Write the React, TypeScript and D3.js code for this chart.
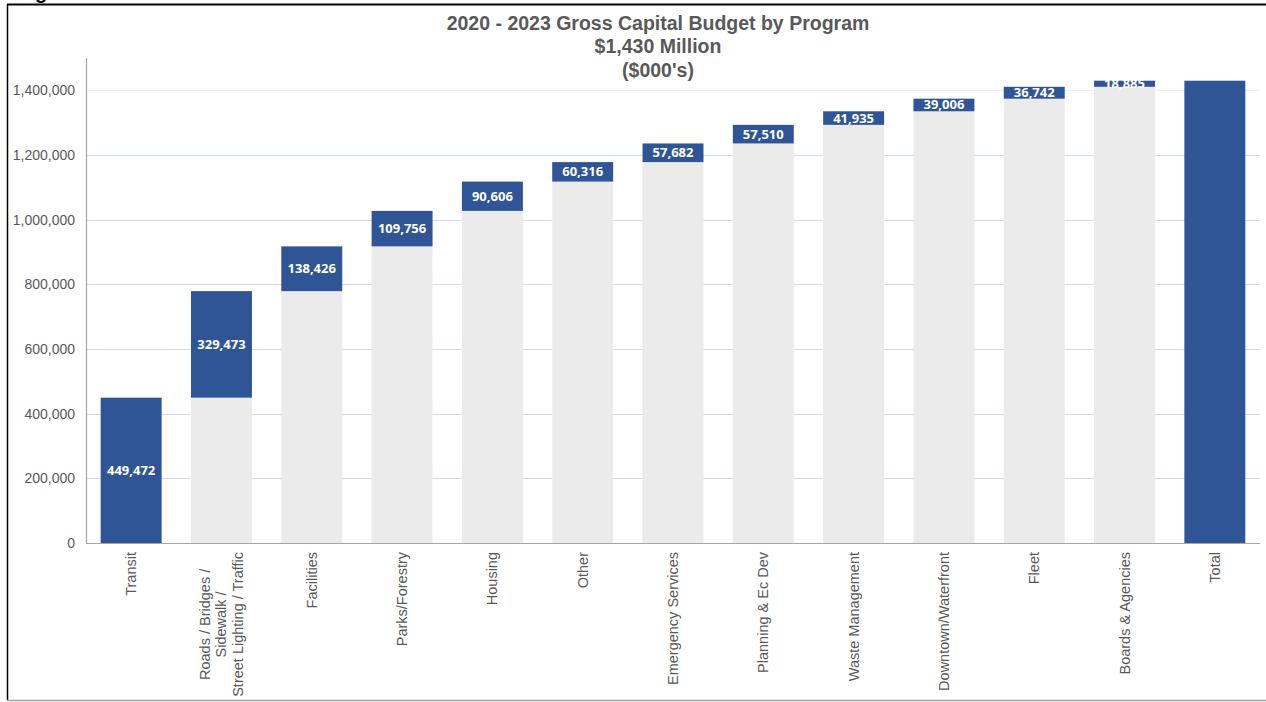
import React, { useEffect, useRef } from "react";
import * as d3 from "d3";

const categories: string[][] = [
  ["Transit"],
  ["Roads / Bridges /", "Sidewalk /", "Street Lighting / Traffic"],
  ["Facilities"],
  ["Parks/Forestry"],
  ["Housing"],
  ["Other"],
  ["Emergency Services"],
  ["Planning & Ec Dev"],
  ["Waste Management"],
  ["Downtown/Waterfront"],
  ["Fleet"],
  ["Boards & Agencies"],
  ["Total"],
];
const programValues: number[] = [
  449472, 329473, 138426, 109756, 90606, 60316, 57682, 57510, 41935, 39006, 36742, 18885,
];
const yTicks: number[] = [0, 200000, 400000, 600000, 800000, 1000000, 1200000, 1400000];
const titleLines: string[] = [
  "2020 - 2023 Gross Capital Budget by Program",
  "$1,430 Million",
  "($000's)",
];

const W = 1266;
const H = 702;
const BLUE = "#2f5597";
const GREY_BAR = "#ebebeb";
const TEXT = "#595959";

export default function App() {
  const ref = useRef<SVGSVGElement>(null);

  useEffect(() => {
    const svg = d3.select(ref.current);
    svg.selectAll("*").remove();

    // frame
    svg.append("text").attr("x", 35).attr("y", -1).attr("font-family", "Liberation Sans, Arial")
      .attr("font-weight", "bold").attr("font-size", 20).attr("fill", "#000").text("g");
    svg.append("line").attr("x1", 7).attr("x2", W).attr("y1", 4.5).attr("y2", 4.5)
      .attr("stroke", "#000").attr("stroke-width", 2);
    svg.append("line").attr("x1", 7.5).attr("x2", 7.5).attr("y1", 4).attr("y2", 700)
      .attr("stroke", "#000").attr("stroke-width", 1.5);
    svg.append("line").attr("x1", 7).attr("x2", W).attr("y1", 700.5).attr("y2", 700.5)
      .attr("stroke", "#a0a0a0").attr("stroke-width", 1.5);

    const left = 86, right = 1260, top = 58, bottom = 543;
    const y = d3.scaleLinear().domain([0, 1500000]).range([bottom, top]);
    const x = d3.scaleBand<number>().domain(d3.range(categories.length)).range([left, right])
      .paddingInner(0.325).paddingOuter(0.1625);

    // title
    const tg = svg.append("g");
    titleLines.forEach((t, i) => {
      tg.append("text").attr("x", 658).attr("y", 29.5 + i * 23.5).attr("text-anchor", "middle")
        .attr("font-family", "Liberation Sans, Arial").attr("font-weight", "bold")
        .attr("font-size", 19.5).attr("fill", TEXT).text(t);
    });

    // gridlines
    svg.append("g").selectAll("line").data(yTicks.filter((d) => d > 0)).join("line")
      .attr("x1", left).attr("x2", right)
      .attr("y1", (d) => Math.round(y(d)) + 0.5).attr("y2", (d) => Math.round(y(d)) + 0.5)
      .attr("stroke", (d) => (d === 1400000 ? "#eef1f7" : "#d0dcf1")).attr("stroke-width", 1);

    // y tick labels
    svg.append("g").selectAll("text").data(yTicks).join("text")
      .attr("x", 75).attr("y", (d) => y(d) + 5).attr("text-anchor", "end")
      .attr("font-family", "Liberation Sans, Arial").attr("font-size", 14).attr("fill", TEXT)
      .text((d) => d3.format(",")(d));

    // waterfall data
    const cum: number[] = [];
    let acc = 0;
    programValues.forEach((v) => { cum.push(acc); acc += v; });
    const total = acc;

    const bars = svg.append("g");
    bars.selectAll("rect.base").data(programValues.map((v, i) => ({ i, base: cum[i] })).filter((d) => d.base > 0))
      .join("rect").attr("class", "base")
      .attr("x", (d) => x(d.i)!).attr("width", x.bandwidth())
      .attr("y", (d) => y(d.base)).attr("height", (d) => y(0) - y(d.base))
      .attr("fill", GREY_BAR);
    bars.selectAll("rect.val").data(programValues.map((v, i) => ({ i, v, base: cum[i] })))
      .join("rect").attr("class", "val")
      .attr("x", (d) => x(d.i)!).attr("width", x.bandwidth())
      .attr("y", (d) => y(d.base + d.v)).attr("height", (d) => y(d.base) - y(d.base + d.v))
      .attr("fill", BLUE);
    const ti = categories.length - 1;
    bars.append("rect").attr("x", x(ti)!).attr("width", x.bandwidth())
      .attr("y", y(total)).attr("height", y(0) - y(total)).attr("fill", BLUE);

    bars.selectAll("text.lbl").data(programValues.map((v, i) => ({ i, v, base: cum[i] })))
      .join("text").attr("class", "lbl")
      .attr("x", (d) => x(d.i)! + x.bandwidth() / 2)
      .attr("y", (d) => (y(d.base) + y(d.base + d.v)) / 2 + 4.5)
      .attr("text-anchor", "middle").attr("font-family", "Open Sans").attr("font-weight", "bold")
      .attr("font-size", 13).attr("fill", "#ffffff")
      .text((d) => d3.format(",")(d.v));

    svg.append("line").attr("x1", left + 0.5).attr("x2", left + 0.5).attr("y1", top).attr("y2", bottom)
      .attr("stroke", "#a6a6a6").attr("stroke-width", 1.2);
    svg.append("line").attr("x1", left).attr("x2", right).attr("y1", bottom + 0.5).attr("y2", bottom + 0.5)
      .attr("stroke", "#a6a6a6").attr("stroke-width", 1.2);

    const xl = svg.append("g");
    categories.forEach((lines, i) => {
      const cx = x(i)! + x.bandwidth() / 2;
      const g = xl.append("g").attr("transform", `translate(${cx},552) rotate(-90)`);
      const lh = 16.5;
      const texts = lines.map((ln, k) =>
        g.append("text").attr("x", 0).attr("y", (k - (lines.length - 1) / 2) * lh + 5)
          .attr("font-family", "Liberation Sans, Arial").attr("font-size", 14.5).attr("fill", TEXT)
          .attr("text-anchor", "middle").text(ln)
      );
      const widths = texts.map((t) => (t.node() as SVGTextElement).getComputedTextLength());
      const maxW = Math.max(...widths);
      texts.forEach((t) => t.attr("x", -maxW / 2));
    });
  }, []);

  return (
    <svg ref={ref} width={W} height={H}
      style={{ position: "absolute", left: 0, top: 0, background: "#fff" }} />
  );
}
